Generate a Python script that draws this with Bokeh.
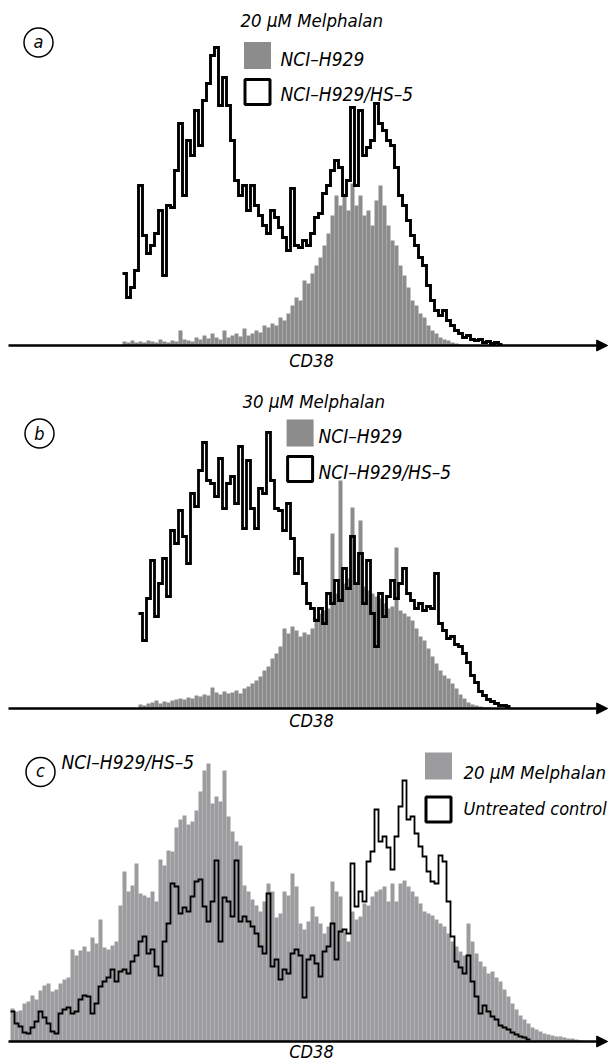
import numpy as np
from bokeh.plotting import figure
from bokeh.layouts import column
from bokeh.models import Range1d, Label, Arrow, NormalHead
from bokeh.embed import file_html
from bokeh.resources import INLINE

# ---------------- data (counts per CD38 channel) ----------------
# panel a : 20 uM melphalan
a_gray_start = 28
a_gray = [4, 3, 5, 3, 4, 3, 5, 4, 3, 6,
          4, 3, 5, 4, 15, 6, 5, 4, 8, 6,
          10, 7, 12, 8, 6, 15, 8, 10, 12, 9,
          17, 10, 12, 15, 13, 20, 18, 22, 20, 28,
          25, 32, 40, 48, 45, 65, 62, 72, 80, 88,
          100, 112, 130, 150, 140, 150, 135, 162, 140, 150,
          130, 135, 120, 145, 160, 140, 120, 105, 100, 80,
          70, 58, 45, 40, 32, 28, 20, 15, 12, 8,
          6, 5, 3, 2, 1]
a_black_start = 28
a_black = [72, 48, 58, 75, 160, 110, 92, 100, 112, 135,
           70, 140, 138, 175, 222, 150, 205, 190, 235, 200,
           245, 262, 290, 298, 240, 268, 240, 205, 165, 150,
           160, 135, 160, 140, 130, 120, 112, 135, 128, 118,
           108, 95, 157, 100, 98, 105, 100, 112, 128, 132,
           152, 160, 175, 185, 178, 150, 165, 238, 160, 235,
           190, 198, 205, 242, 222, 215, 205, 200, 178, 150,
           140, 125, 110, 100, 88, 80, 60, 45, 35, 30,
           35, 25, 20, 15, 12, 8, 10, 6, 5, 6,
           3, 4, 2, 3, 1]

# panel b : 30 uM melphalan
b_gray_start = 32
b_gray = [4, 3, 5, 6, 8, 5, 7, 6, 8, 9,
          10, 9, 11, 10, 13, 12, 14, 13, 21, 16,
          14, 17, 15, 16, 18, 15, 20, 22, 25, 28,
          32, 38, 42, 50, 55, 62, 80, 75, 82, 78,
          72, 76, 74, 80, 90, 95, 98, 100, 175, 115,
          228, 125, 130, 201, 125, 188, 122, 118, 115, 112,
          110, 105, 100, 102, 161, 98, 95, 92, 88, 80,
          72, 68, 60, 52, 45, 38, 33, 30, 25, 20,
          14, 10, 6, 4, 3, 2, 1, 1]
b_black_start = 32
b_black = [95, 68, 110, 148, 92, 125, 150, 112, 178, 165,
           198, 172, 145, 215, 202, 238, 266, 228, 225, 212,
           250, 200, 225, 232, 205, 262, 180, 248, 200, 180,
           220, 215, 276, 228, 200, 198, 178, 205, 170, 135,
           150, 125, 105, 100, 88, 100, 85, 115, 105, 128,
           108, 140, 120, 172, 125, 155, 105, 148, 95, 62,
           115, 92, 112, 128, 110, 125, 140, 115, 108, 100,
           105, 98, 102, 100, 135, 85, 78, 70, 72, 64,
           62, 55, 46, 33, 26, 17, 13, 9, 7, 5,
           3, 3, 2]

# panel c : NCI-H929/HS-5, 20 uM melphalan vs untreated
c_gray_start = 0
c_gray = [33, 30, 31, 38, 40, 46, 42, 51, 56, 58,
          50, 52, 58, 62, 64, 92, 86, 91, 95, 90,
          104, 98, 122, 94, 92, 96, 100, 136, 170, 150,
          156, 178, 148, 146, 144, 150, 140, 182, 176, 191,
          190, 214, 222, 226, 217, 220, 231, 250, 271, 278,
          238, 245, 240, 271, 225, 210, 200, 196, 156, 150,
          142, 136, 130, 140, 158, 150, 124, 128, 150, 146,
          168, 155, 118, 112, 120, 135, 125, 118, 108, 115,
          160, 150, 145, 110, 100, 130, 122, 125, 138, 136,
          145, 150, 152, 155, 140, 158, 140, 158, 161, 155,
          150, 145, 138, 130, 128, 126, 122, 118, 115, 108,
          100, 95, 90, 86, 118, 100, 88, 80, 75, 68,
          70, 64, 60, 52, 45, 38, 32, 26, 22, 18,
          14, 12, 10, 8, 7, 6, 5, 5, 4, 3,
          3, 2, 1]
c_black_start = 0
c_black = [30, 18, 15, 9, 8, 14, 20, 30, 24, 18,
           10, 8, 28, 32, 34, 28, 30, 42, 46, 45,
           28, 38, 55, 60, 64, 72, 60, 70, 72, 68,
           80, 86, 100, 105, 88, 92, 75, 66, 100, 118,
           158, 155, 128, 134, 130, 145, 160, 162, 135, 120,
           140, 181, 100, 144, 140, 125, 181, 120, 125, 120,
           115, 108, 95, 88, 148, 75, 82, 62, 72, 68,
           88, 92, 86, 44, 82, 86, 78, 65, 90, 95,
           118, 82, 110, 112, 108, 178, 135, 150, 140, 180,
           190, 232, 200, 205, 194, 172, 205, 235, 261, 222,
           225, 208, 195, 185, 170, 160, 158, 186, 180, 140,
           105, 80, 74, 68, 86, 60, 45, 28, 36, 30,
           25, 22, 16, 14, 12, 9, 7, 5, 4, 2]

axis_label = "CD38"
titles = ["20 \u03bcM Melphalan", "30 \u03bcM Melphalan"]
legend_ab = ["NCI\u2013H929", "NCI\u2013H929/HS\u20135"]
legend_c = ["20 \u03bcM Melphalan", "Untreated control"]
panel_c_name = "NCI\u2013H929/HS\u20135"

# ---------------- styling ----------------
FONT = "DejaVu Sans Condensed"
GRAY_AB = "#8c8c8c"
GRAY_C = "#9c9c9e"
W = 611


def make_fig(h, ylo, yhi):
    p = figure(width=W, height=h, x_range=Range1d(-2.5, 150.25),
               y_range=Range1d(ylo, yhi), output_backend="svg",
               toolbar_location=None, x_axis_type=None, y_axis_type=None,
               min_border=0)
    p.grid.visible = False
    p.outline_line_color = None
    p.background_fill_color = "white"
    p.border_fill_color = "white"
    return p


def hist_fill(p, start, vals, color):
    x = start + np.arange(len(vals))
    p.quad(left=x, right=x + 1, bottom=0, top=vals, fill_color=color,
           line_color=None)


def hist_line(p, start, vals, lw):
    x = start + np.arange(len(vals) + 1)
    y = list(vals) + [vals[-1]]
    p.step(x=x, y=y, mode="after", line_color="black", line_width=lw,
           line_join="miter")


def label(p, x, y, text, size, align="left"):
    p.add_layout(Label(x=x, y=y, text=text, text_font=FONT,
                       text_font_size=f"{size}px", text_font_style="italic",
                       text_align=align, text_baseline="middle",
                       text_color="black"))


def axis_arrow(p):
    p.add_layout(Arrow(end=NormalHead(size=11, fill_color="black",
                                      line_color="black", line_width=1),
                       x_start=-0.5, y_start=0, x_end=149.3, y_end=0,
                       line_width=2.5, line_color="black"))


def circle_tag(p, x, y, letter, ly):
    p.scatter(x=[x], y=[y], marker="circle", size=29, fill_color="white",
              line_color="black", line_width=1.5)
    label(p, x, ly, letter, 18, align="center")


def legend_boxes(p, x, y_gray, y_white, gray):
    p.scatter(x=[x], y=[y_gray], marker="square", size=27, fill_color=gray,
              line_color=None)
    p.scatter(x=[x], y=[y_white], marker="square", size=25,
              fill_color="white", line_color="black", line_width=3)


# ---------------- panel a (axis at page y 345) ----------------
pa = make_fig(372, -27, 345)
hist_fill(pa, a_gray_start, a_gray, GRAY_AB)
hist_line(pa, a_black_start, a_black, 2.9)
axis_arrow(pa)
label(pa, 57.5, 325, titles[0], 18.5)
circle_tag(pa, 7, 303, "a", 304.5)
legend_boxes(pa, 61.75, 290, 253.5, GRAY_AB)
label(pa, 67.5, 286.5, legend_ab[0], 19)
label(pa, 67.5, 252, legend_ab[1], 19)
label(pa, 75.25, -15, axis_label, 18, align="center")

# ---------------- panel b (axis at page y 708) ----------------
pb = make_fig(360, -24, 336)
hist_fill(pb, b_gray_start, b_gray, GRAY_AB)
hist_line(pb, b_black_start, b_black, 2.8)
axis_arrow(pb)
label(pb, 58, 307, titles[1], 18.5)
circle_tag(pb, 7.25, 275, "b", 275)
legend_boxes(pb, 72.4, 275.5, 239.5, GRAY_AB)
label(pb, 77, 272.5, legend_ab[0], 19)
label(pb, 77, 236.5, legend_ab[1], 19)
label(pb, 75.25, -12, axis_label, 18, align="center")

# ---------------- panel c (axis at page y 1041) ----------------
pc = make_fig(332, -23, 309)
hist_fill(pc, c_gray_start, c_gray, GRAY_C)
hist_line(pc, c_black_start, c_black, 1.8)
axis_arrow(pc)
circle_tag(pc, 7.5, 269.5, "c", 271)
label(pc, 12.75, 279.5, panel_c_name, 19)
legend_boxes(pc, 107, 275.5, 232, GRAY_C)
label(pc, 113.25, 269.5, legend_c[0], 18.5)
label(pc, 113.25, 233.5, legend_c[1], 18)
label(pc, 75.25, -10, axis_label, 18, align="center")

layout = column(pa, pb, pc, spacing=0)
open("out.html", "w").write(file_html(layout, INLINE))
